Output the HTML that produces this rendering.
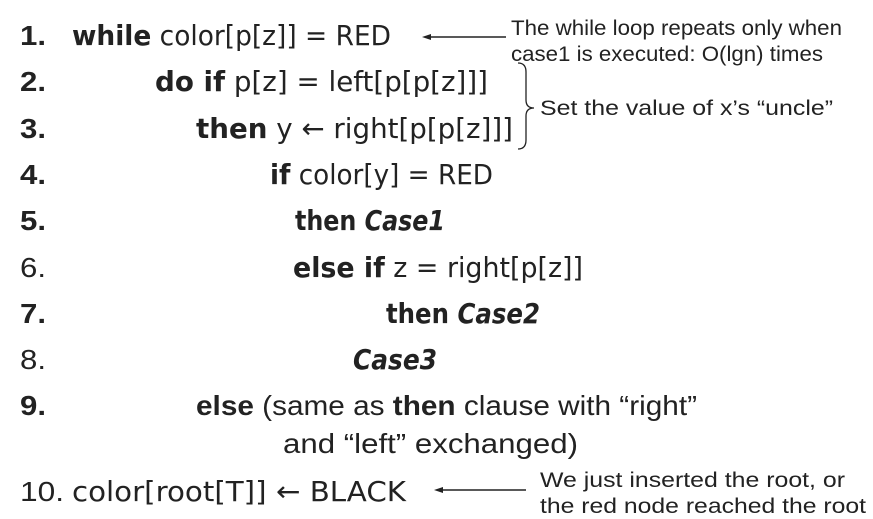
<!DOCTYPE html>
<html><head><meta charset="utf-8"><style>
html,body{margin:0;padding:0;background:#fff;}
svg{display:block}
.m{font-family:"DejaVu Sans","Liberation Sans",sans-serif;font-size:28px;fill:#222;}
.n{font-family:"Liberation Sans",sans-serif;font-size:28px;fill:#222;}
.a{font-family:"Liberation Sans",sans-serif;font-size:21px;fill:#222;}
</style></head><body>
<svg width="873" height="519" viewBox="0 0 873 519" xmlns="http://www.w3.org/2000/svg">
<text class="n" x="20" y="45" font-weight="bold" textLength="26" lengthAdjust="spacingAndGlyphs">1.</text>
<text class="m" x="72" y="45" textLength="319" lengthAdjust="spacingAndGlyphs"><tspan font-weight="bold">while</tspan> color[p[z]] = RED</text>
<text class="n" x="20" y="91" font-weight="bold" textLength="26" lengthAdjust="spacingAndGlyphs">2.</text>
<text class="m" x="155" y="91" textLength="333" lengthAdjust="spacingAndGlyphs"><tspan font-weight="bold">do if</tspan> p[z] = left[p[p[z]]]</text>
<text class="n" x="20" y="138" font-weight="bold" textLength="26" lengthAdjust="spacingAndGlyphs">3.</text>
<text class="m" x="196" y="138" textLength="317" lengthAdjust="spacingAndGlyphs"><tspan font-weight="bold">then</tspan> y ← right[p[p[z]]]</text>
<text class="n" x="20" y="184" font-weight="bold" textLength="26" lengthAdjust="spacingAndGlyphs">4.</text>
<text class="m" x="270" y="184" textLength="223" lengthAdjust="spacingAndGlyphs"><tspan font-weight="bold">if</tspan> color[y] = RED</text>
<text class="n" x="20" y="230" font-weight="bold" textLength="26" lengthAdjust="spacingAndGlyphs">5.</text>
<text class="m" x="295" y="230" textLength="150" lengthAdjust="spacingAndGlyphs" font-weight="bold">then <tspan font-style="italic">Case1</tspan></text>
<text class="n" x="20" y="277" textLength="26" lengthAdjust="spacingAndGlyphs">6.</text>
<text class="m" x="293" y="277" textLength="290" lengthAdjust="spacingAndGlyphs"><tspan font-weight="bold">else if</tspan> z = right[p[z]]</text>
<text class="n" x="20" y="323" font-weight="bold" textLength="26" lengthAdjust="spacingAndGlyphs">7.</text>
<text class="m" x="386" y="323" textLength="154" lengthAdjust="spacingAndGlyphs" font-weight="bold">then <tspan font-style="italic">Case2</tspan></text>
<text class="n" x="20" y="369" textLength="26" lengthAdjust="spacingAndGlyphs">8.</text>
<text class="m" x="353" y="369" textLength="84" lengthAdjust="spacingAndGlyphs" font-weight="bold" font-style="italic">Case3</text>
<text class="n" x="20" y="415" font-weight="bold" textLength="26" lengthAdjust="spacingAndGlyphs">9.</text>
<text class="n" x="196" y="415" textLength="501" lengthAdjust="spacingAndGlyphs"><tspan font-weight="bold">else</tspan> (same as <tspan font-weight="bold">then</tspan> clause with “right”</text>
<text class="n" x="283" y="453" textLength="295" lengthAdjust="spacingAndGlyphs">and “left”  exchanged)</text>
<text class="n" x="20" y="501" textLength="44" lengthAdjust="spacingAndGlyphs">10.</text>
<text class="m" x="72" y="501" textLength="334" lengthAdjust="spacingAndGlyphs">color[root[T]] ← BLACK</text>

<text class="a" x="511" y="35" textLength="331" lengthAdjust="spacingAndGlyphs">The while loop repeats only when</text>
<text class="a" x="511" y="61" textLength="312" lengthAdjust="spacingAndGlyphs">case1 is executed: O(lgn) times</text>
<text class="a" x="540" y="115" textLength="293" lengthAdjust="spacingAndGlyphs">Set the value of x’s “uncle”</text>
<text class="a" x="540" y="487" textLength="305" lengthAdjust="spacingAndGlyphs">We just inserted the root, or</text>
<text class="a" x="540" y="513" textLength="326" lengthAdjust="spacingAndGlyphs">the red node reached the root</text>

<line x1="428" y1="37" x2="506" y2="37" stroke="#222" stroke-width="1.5"/>
<polygon points="422,37 431,34 431,40" fill="#222"/>
<line x1="440" y1="490" x2="526" y2="490" stroke="#222" stroke-width="1.5"/>
<polygon points="434,490 443,487 443,493" fill="#222"/>
<path d="M518,63 Q526,63 526,72 L526,100 Q526,108 534,108 Q526,108 526,116 L526,140 Q526,149 518,149" fill="none" stroke="#222" stroke-width="1.3"/>
</svg>
</body></html>
